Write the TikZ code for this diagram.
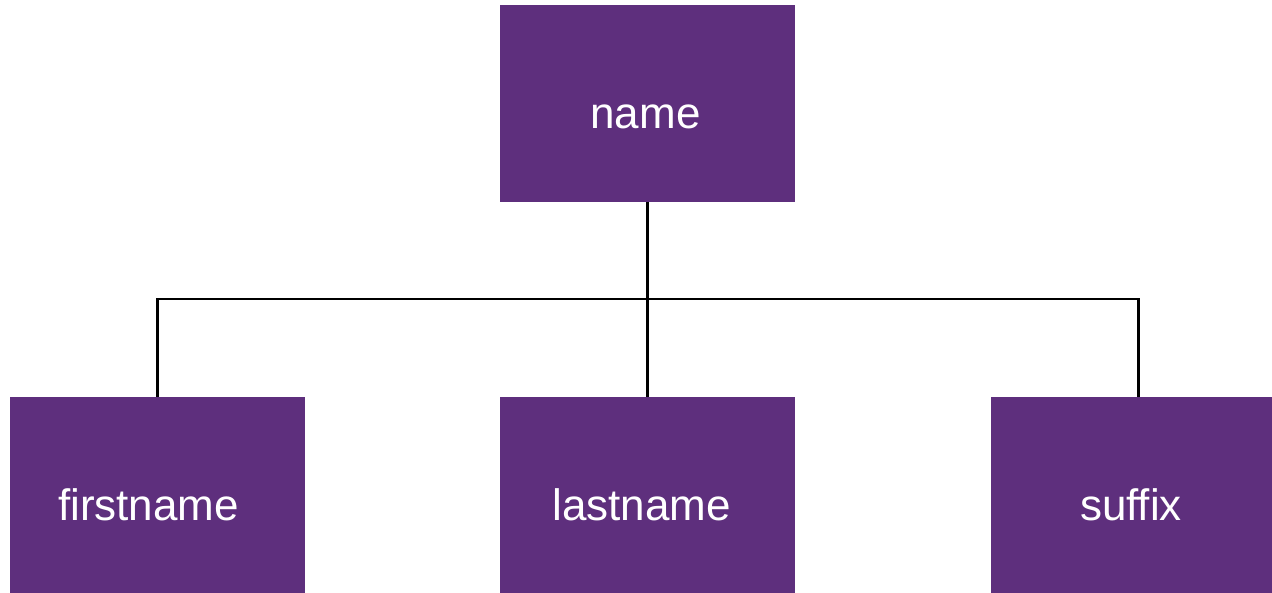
\documentclass[tikz,border=0pt]{standalone}
\usepackage{fontspec}
\setmainfont{Liberation Sans}
\definecolor{boxpurple}{RGB}{94,47,125}
\begin{document}
\begin{tikzpicture}[x=1pt,y=-1pt,
  box/.style={draw=none,fill=boxpurple,minimum width=295pt,minimum height=197pt,inner sep=0pt,anchor=center},
  lbl/.style={text=white,font=\fontsize{44}{50}\selectfont,inner sep=0pt,anchor=base},
  conn/.style={draw=black,line width=2.2pt}]
\useasboundingbox (0,0) rectangle (1272,593);
\clip (0,0) rectangle (1272,593);
\node[box] (name) at (647.5,103.5) {};
\node[box] (first) at (157.5,495.5) {};
\node[box] (last) at (647.5,495.5) {};
\node[box] (suffix) at (1138.5,495.5) {};
\node[lbl] (tname) at (645.5,129) {name};
\node[lbl] (tfirst) at (148.5,520) {firstname};
\node[lbl] (tlast) at (641.5,520) {lastname};
\node[lbl] (tsuffix) at (1131,520) {suffix};
\coordinate (j) at (647.5,299);
\draw[conn] (name.south) -- (j);
\draw[conn] (last.north) -- (j);
\draw[conn] (first.north) |- (j);
\draw[conn] (suffix.north) |- (j);
\end{tikzpicture}
\end{document}
